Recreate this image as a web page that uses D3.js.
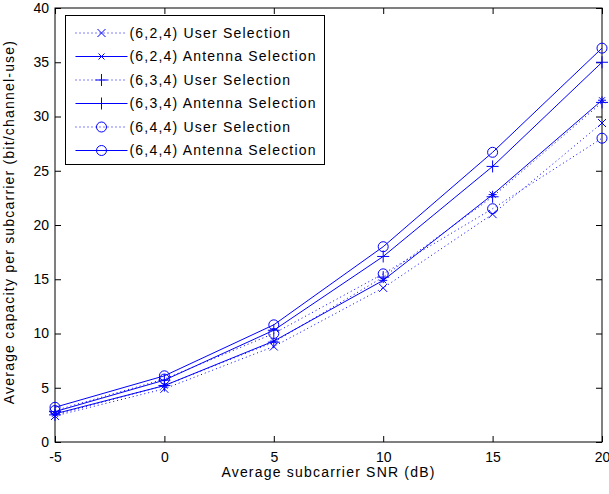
<!DOCTYPE html>
<html>
<head>
<meta charset="utf-8">
<script src="https://cdn.jsdelivr.net/npm/d3@7"></script>
<style>
  body { margin: 0; background: #fff; }
  text { font-family: "Liberation Sans", Arial, sans-serif; }
</style>
</head>
<body>
<div id="chart"></div>
<script>
// SNR values (dB)
var snr = [-5, 0, 5, 10, 15, 20]
// capacity per subcarrier
var us624 = [2.4, 4.9, 8.8, 14.2, 21.0, 29.4]
var as624 = [2.6, 5.2, 9.3, 14.9, 22.8, 31.5]
var us634 = [2.5, 5.2, 9.2, 15.2, 22.6, 31.3]
var as634 = [2.8, 5.7, 10.3, 17.1, 25.4, 35.0]
var us644 = [2.9, 5.8, 10.0, 15.5, 21.5, 28.0]
var as644 = [3.2, 6.1, 10.8, 18.0, 26.7, 36.3]
var seriesNames = [
  '(6,2,4) User Selection',
  '(6,2,4) Antenna Selection',
  '(6,3,4) User Selection',
  '(6,3,4) Antenna Selection',
  '(6,4,4) User Selection',
  '(6,4,4) Antenna Selection'
]
var xTicks = [-5, 0, 5, 10, 15, 20]
var yTicks = [0, 5, 10, 15, 20, 25, 30, 35, 40]

var series = [
  { name: seriesNames[0], values: us624, dotted: true, marker: 'x' },
  { name: seriesNames[1], values: as624, dotted: false, marker: 'star' },
  { name: seriesNames[2], values: us634, dotted: true, marker: 'plus' },
  { name: seriesNames[3], values: as634, dotted: false, marker: 'plus' },
  { name: seriesNames[4], values: us644, dotted: true, marker: 'circle' },
  { name: seriesNames[5], values: as644, dotted: false, marker: 'circle' }
]

var width_all = 609, height_all = 494
var margin = { top: 8, right: 7, bottom: 52, left: 55 }
var width = width_all - margin.left - margin.right,
  height = height_all - margin.top - margin.bottom
var blue = '#0000ff'
var spacing = '1.2px'

var svg = d3.select('#chart').append('svg')
  .attr('width', width_all).attr('height', height_all)
var g = svg.append('g')
  .attr('transform', 'translate(' + margin.left + ',' + margin.top + ')')

var x = d3.scaleLinear().domain([-5, 20]).range([0, width])
var y = d3.scaleLinear().domain([0, 40]).range([height, 0])
var fmt = function (d) { return String(d) }

// axes with inward ticks on all four sides
var tickLen = 6
var axB = g.append('g').attr('transform', 'translate(0,' + height + ')')
  .call(d3.axisBottom(x).tickValues(xTicks).tickFormat(fmt).tickSizeInner(-tickLen).tickSizeOuter(0).tickPadding(12))
var axT = g.append('g')
  .call(d3.axisTop(x).tickValues(xTicks).tickSizeInner(-tickLen).tickSizeOuter(0).tickFormat(''))
var axL = g.append('g')
  .call(d3.axisLeft(y).tickValues(yTicks).tickFormat(fmt).tickSizeInner(-tickLen).tickSizeOuter(0).tickPadding(6))
var axR = g.append('g').attr('transform', 'translate(' + width + ',0)')
  .call(d3.axisRight(y).tickValues(yTicks).tickSizeInner(-tickLen).tickSizeOuter(0).tickFormat(''))
;[axB, axT, axL, axR].forEach(function (a) {
  a.select('.domain').remove()
  a.selectAll('line').attr('stroke', '#000')
  a.selectAll('text').attr('fill', '#000').style('font-size', '14px')
})
axB.selectAll('text').attr('dy', '0.6em')

g.append('rect')
  .attr('width', width).attr('height', height)
  .attr('fill', 'none').attr('stroke', '#000').attr('stroke-width', 1)

var line = d3.line()
  .x(function (d, i) { return x(snr[i]) })
  .y(function (d) { return y(d) })

function drawMarker(sel, type) {
  if (type === 'circle') {
    sel.append('circle').attr('r', 5).attr('fill', 'none').attr('stroke', blue)
  } else if (type === 'plus') {
    sel.append('path').attr('d', 'M-6,0H6M0,-6V6').attr('stroke', blue).attr('fill', 'none')
  } else if (type === 'x') {
    sel.append('path').attr('d', 'M-4,-4L4,4M-4,4L4,-4').attr('stroke', blue).attr('fill', 'none')
  } else {
    sel.append('path').attr('d', 'M-3,-3L3,3M-3,3L3,-3M-4,0H4').attr('stroke', blue).attr('fill', 'none')
  }
}

series.forEach(function (s) {
  g.append('path')
    .datum(s.values)
    .attr('fill', 'none')
    .attr('stroke', blue)
    .attr('stroke-width', 1)
    .attr('stroke-dasharray', s.dotted ? '1,3' : null)
    .attr('d', line)
  g.selectAll(null)
    .data(s.values)
    .enter()
    .append('g')
    .attr('transform', function (d, i) { return 'translate(' + x(snr[i]) + ',' + y(d) + ')' })
    .each(function () { drawMarker(d3.select(this), s.marker) })
})

// legend
var legend = svg.append('g').attr('transform', 'translate(65.5,15.5)')
legend.append('rect')
  .attr('width', 259).attr('height', 149)
  .attr('fill', '#fff').attr('stroke', '#000')
var items = legend.selectAll('g.item')
  .data(series)
  .enter()
  .append('g')
  .attr('class', 'item')
  .attr('transform', function (d, i) { return 'translate(0,' + (17.5 + i * 23.5) + ')' })
items.append('line')
  .attr('x1', 10).attr('x2', 62).attr('y1', 0).attr('y2', 0)
  .attr('stroke', blue)
  .attr('stroke-dasharray', function (d) { return d.dotted ? '1,3' : null })
items.append('g').attr('transform', 'translate(36,0)')
  .each(function (d) { drawMarker(d3.select(this), d.marker) })
items.append('text')
  .attr('x', 64).attr('dy', '0.35em')
  .style('font-size', '14px')
  .style('letter-spacing', spacing)
  .attr('fill', '#000')
  .text(function (d) { return d.name })

// axis labels
svg.append('text')
  .attr('x', margin.left + width / 2).attr('y', 477)
  .attr('text-anchor', 'middle')
  .style('font-size', '14px')
  .style('letter-spacing', spacing)
  .text('Average subcarrier SNR (dB)')
svg.append('text')
  .attr('transform', 'translate(14,' + (margin.top + height / 2 - 3) + ') rotate(-90)')
  .attr('text-anchor', 'middle')
  .style('font-size', '14px')
  .style('letter-spacing', spacing)
  .text('Average capacity per subcarrier (bit/channel-use)')
</script>
</body>
</html>
